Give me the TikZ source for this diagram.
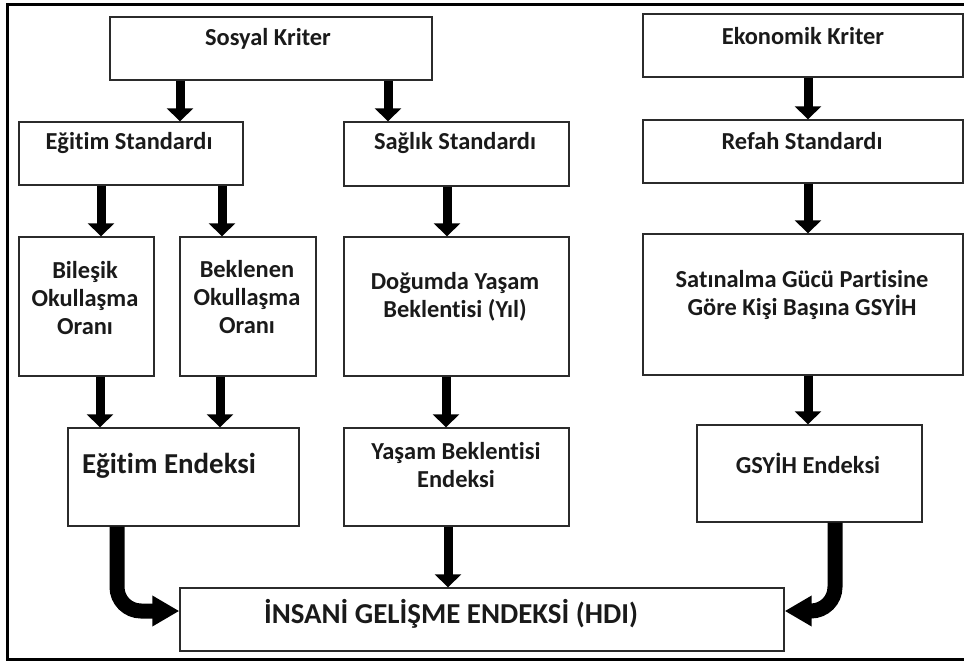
\documentclass[tikz,border=0pt]{standalone}
\usepackage{fontspec}
\setmainfont{Carlito}[Ligatures=NoCommon]
\usetikzlibrary{arrows.meta,fit}
\definecolor{boxline}{HTML}{2B2B2B}
\definecolor{txt}{HTML}{1A1A1A}
\tikzset{
  box/.style={draw=boxline, line width=1.4bp, inner sep=0pt, fill=white},
  lbl/.style={font=\fontsize{24.5}{28.5}\selectfont\bfseries, text=txt, align=center, inner sep=0pt},
  biglbl/.style={lbl, font=\fontsize{29}{33}\selectfont\bfseries},
  arr/.style={line width=9bp, draw=black, -{Triangle[width=26bp,length=13bp]}},
  carr/.style={line width=15bp, draw=black, rounded corners=24bp, -{Triangle[width=29bp,length=27bp]}},
  frame/.style={draw=black, line width=3bp}
}
\begin{document}
\begin{tikzpicture}[x=1bp,y=-1bp]
\useasboundingbox (0,0) rectangle (964,661);
\draw[frame] (7,5) rectangle (980,659);

% boxes
\node[box, fit={(110,17) (432,80)}] (sos) {};
\node[box, fit={(643,14) (963,77)}] (eko) {};
\node[box, fit={(19,122) (243,185)}] (egs) {};
\node[box, fit={(344,122) (569,186)}] (sag) {};
\node[box, fit={(643,120) (963,183)}] (ref) {};
\node[box, fit={(19,237) (154,376)}] (bil) {};
\node[box, fit={(180,237) (316,376)}] (bek) {};
\node[box, fit={(344,237) (569,376)}] (dog) {};
\node[box, fit={(643,234) (963,375)}] (sat) {};
\node[box, fit={(68,428) (299,526)}] (eei) {};
\node[box, fit={(344,428) (569,526)}] (yei) {};
\node[box, fit={(697,425) (922,522)}] (gei) {};
\node[box, fit={(180,588) (784,651)}] (hdi) {};

% labels
\node[lbl] (tsos) at (268,39) {Sosyal Kriter};
\node[lbl] (teko) at (803,36) {Ekonomik Kriter};
\node[lbl] (tegs) at (129,143) {Eğitim Standardı};
\node[lbl] (tsag) at (455,143) {Sağlık Standardı};
\node[lbl] (tref) at (802,141) {Refah Standardı};
\node[lbl] (tbil) at (85,298) {Bileşik\\Okullaşma\\Oranı};
\node[lbl] (tbek) at (247,297) {Beklenen\\Okullaşma\\Oranı};
\node[lbl] (tdog) at (455,297) {Doğumda Yaşam\\Beklentisi (Yıl)};
\node[lbl] (tsat) at (802,295) {Satınalma Gücü Partisine\\Göre Kişi Başına GSYİH};
\node[biglbl] (teei) at (169,466) {Eğitim Endeksi};
\node[lbl] (tyei) at (456,465) {Yaşam Beklentisi\\Endeksi};
\node[lbl] (tgei) at (808,463) {GSYİH Endeksi};
\node[biglbl] (thdi) at (451,614) {İNSANİ GELİŞME ENDEKSİ (HDI)};

% arrow x positions
\coordinate (a1) at (180,0);
\coordinate (a2) at (388,0);
\coordinate (a3) at (808,0);
\coordinate (a4) at (101,0);
\coordinate (a5) at (222,0);
\coordinate (a6) at (447,0);
\coordinate (a7) at (100,0);
\coordinate (a8) at (220,0);
\coordinate (a9) at (446,0);
\coordinate (a10) at (448,0);
\coordinate (cl) at (117,0);
\coordinate (cr) at (835,0);
\coordinate (cy) at (0,611);

\draw[arr] (sos.south -| a1) -- (egs.north -| a1);
\draw[arr] (sos.south -| a2) -- (sag.north -| a2);
\draw[arr] (eko.south -| a3) -- (ref.north -| a3);
\draw[arr] (ref.south -| a3) -- (sat.north -| a3);
\draw[arr] (egs.south -| a4) -- (bil.north -| a4);
\draw[arr] (egs.south -| a5) -- (bek.north -| a5);
\draw[arr] (sag.south -| a6) -- (dog.north -| a6);
\draw[arr] (bil.south -| a7) -- (eei.north -| a7);
\draw[arr] (bek.south -| a8) -- (eei.north -| a8);
\draw[arr] (dog.south -| a9) -- (yei.north -| a9);
\draw[arr] (sat.south -| a3) -- (gei.north -| a3);
\draw[arr] (yei.south -| a10) -- (hdi.north -| a10);

\draw[carr] (eei.south -| cl) -- (cl |- cy) -- (hdi.west |- cy);
\draw[carr] (gei.south -| cr) -- (cr |- cy) -- (hdi.east |- cy);
\end{tikzpicture}
\end{document}
